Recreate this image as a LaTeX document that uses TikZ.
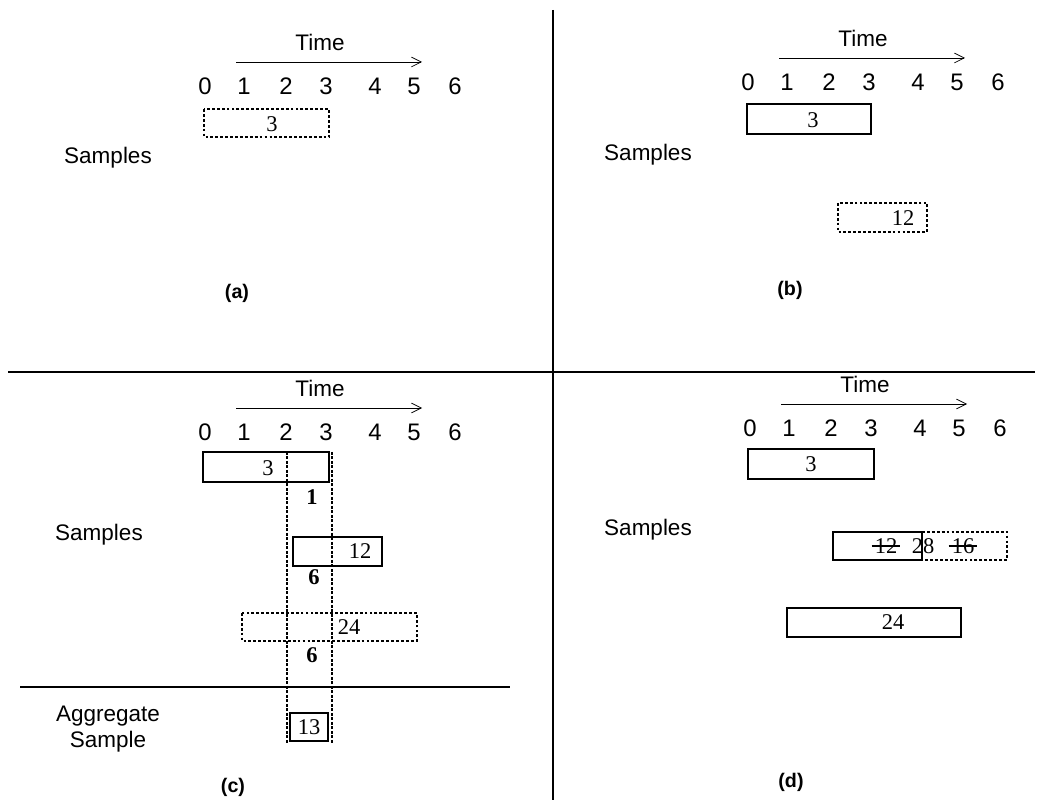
\documentclass[tikz,border=0pt]{standalone}
\usepackage{fontspec}
\setmainfont{Liberation Serif}
\setsansfont{Liberation Sans}
\usetikzlibrary{arrows.meta}

\begin{document}
\begin{tikzpicture}[
    x=0.025cm, y=-0.025cm,
    lbl/.style={font=\sffamily\fontsize{16}{19}\selectfont},
    tick/.style={font=\sffamily\fontsize{17}{20}\selectfont},
    val/.style={font=\fontsize{16}{19}\selectfont, inner sep=0pt},
    wt/.style={font=\bfseries\fontsize{16}{19}\selectfont, inner sep=0pt},
    panel/.style={font=\sffamily\bfseries\fontsize{14}{17}\selectfont},
    solidbox/.style={draw, line width=1.1pt},
    dashbox/.style={draw, line width=1.1pt, dash pattern=on 2pt off 1.5pt},
    window/.style={draw, line width=1pt, dash pattern=on 2pt off 1.2pt},
    timearrow/.style={-{Straight Barb[length=7pt,width=7pt]}, line width=0.5pt},
    divider/.style={line width=0.8pt},
    strike/.style={line width=1pt}
]
    \useasboundingbox (0,0) rectangle (1048,800);

    % frame lines between the four cases
    \coordinate (vtop) at (553,10);
    \coordinate (vbot) at (553,800);
    \coordinate (hleft) at (8,372);
    \coordinate (hright) at (1035,372);
    \draw[divider] (vtop) -- (vbot);
    \draw[divider] (hleft) -- (hright);

    % time axis, the same in every case
    \foreach \p/\dx/\dy in {a/0/0, b/543/-4, c/0/346, d/545/342} {
        \begin{scope}[shift={(\dx,\dy)}]
            \node[lbl] (\p-time) at (320,42) {Time};
            \coordinate (\p-from) at (236,62);
            \coordinate (\p-to) at (422,62);
            \draw[timearrow] (\p-from) -- (\p-to);
            \foreach \t/\x in {0/205,1/244,2/286,3/326,4/375,5/414,6/455}
                \node[tick] (\p-t\t) at (\x,86) {\t};
        \end{scope}
    }

    % (a)
    \node[lbl] (a-samples) at (108,158) {Samples};
    \draw[dashbox] (204,109) rectangle (329,137);
    \node[val] (a-v3) at (272,124) {3};
    \node[panel] (a-cap) at (237,293) {(a)};

    % (b)
    \node[lbl] (b-samples) at (648,155) {Samples};
    \draw[solidbox] (747,104) rectangle (871,134);
    \node[val] (b-v3) at (813,120) {3};
    \draw[dashbox] (838,203) rectangle (927,232);
    \node[val] (b-v12) at (903,218) {12};
    \node[panel] (b-cap) at (790,290) {(b)};

    % (c)
    \node[lbl] (c-samples) at (99,535) {Samples};
    \draw[solidbox] (203,452) rectangle (329,482);
    \node[val] (c-v3) at (268,468) {3};
    \node[wt] (c-w1) at (312,497) {1};
    \draw[solidbox] (293,537) rectangle (382,566);
    \node[val] (c-v12) at (360,551) {12};
    \node[wt] (c-w2) at (314,577) {6};
    \draw[dashbox] (242,613) rectangle (417,641);
    \node[val] (c-v24) at (349,627) {24};
    \node[wt] (c-w3) at (312,655) {6};
    \coordinate (c-left) at (20,687);
    \coordinate (c-right) at (510,687);
    \draw[divider] (c-left) -- (c-right);
    \node[lbl, align=center] (c-agg) at (108,729) {Aggregate\\Sample};
    \draw[solidbox, line width=1.4pt] (290,713) rectangle (328,741);
    \node[val] (c-v13) at (309,727) {13};
    \coordinate (c-w2top) at (287,452);
    \coordinate (c-w2bot) at (287,743);
    \coordinate (c-w3top) at (332,452);
    \coordinate (c-w3bot) at (332,743);
    \draw[window] (c-w2top) -- (c-w2bot);
    \draw[window] (c-w3top) -- (c-w3bot);
    \node[panel] (c-cap) at (233,787) {(c)};

    % (d)
    \node[lbl] (d-samples) at (648,530) {Samples};
    \draw[solidbox] (748,449) rectangle (874,479);
    \node[val] (d-v3) at (811,464) {3};
    \draw[solidbox] (922,532) -- (833,532) -- (833,560) -- (922,560) -- cycle;
    \draw[dashbox] (922,532) -- (1007,532) -- (1007,560) -- (922,560);
    \node[val] (d-v12) at (886,546) {12};
    \node[val] (d-v28) at (923,546) {28};
    \node[val] (d-v16) at (963,546) {16};
    \draw[strike] ([xshift=-2pt]d-v12.west) -- ([xshift=2pt]d-v12.east);
    \draw[strike] ([xshift=-2pt]d-v16.west) -- ([xshift=2pt]d-v16.east);
    \draw[solidbox] (787,608) rectangle (961,637);
    \node[val] (d-v24) at (893,622) {24};
    \node[panel] (d-cap) at (791,782) {(d)};
\end{tikzpicture}
\end{document}
